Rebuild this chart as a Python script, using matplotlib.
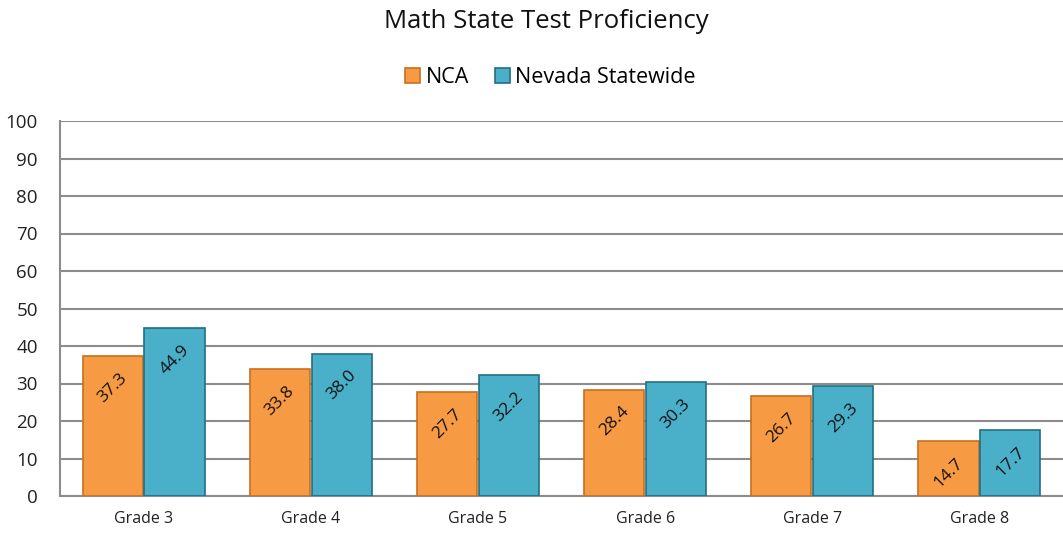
import matplotlib
matplotlib.use("Agg")
import matplotlib.pyplot as plt
import numpy as np

grades = ["Grade 3", "Grade 4", "Grade 5", "Grade 6", "Grade 7", "Grade 8"]
nca = [37.3, 33.8, 27.7, 28.4, 26.7, 14.7]
nevada = [44.9, 38.0, 32.2, 30.3, 29.3, 17.7]
series_names = ["NCA", "Nevada Statewide"]

plt.rcParams["font.family"] = ["Open Sans", "DejaVu Sans"]

fig = plt.figure(figsize=(10.63, 5.34), dpi=100)
ax = fig.add_axes([60 / 1063, 1 - 496 / 534, 1 - 60 / 1063, (496 - 121) / 534])

x = np.arange(len(grades))
width = 0.36
offset = 0.185
colours = [("#F79A44", "#C8701E"), ("#4AAFC8", "#226F84")]

for vals, off, (fc, ec), name in zip([nca, nevada], [-offset, offset], colours, series_names):
    bars = ax.bar(x + off, vals, width, color=fc, edgecolor=ec, linewidth=1.2,
                  label=name, zorder=3)
    for b, v in zip(bars, vals):
        ax.annotate(f"{v:.1f}", (b.get_x() + b.get_width() / 2, v),
                    xytext=(0, -23), textcoords="offset points",
                    ha="center", va="center", rotation=45, fontsize=12.5,
                    color="#111111", zorder=4)

ax.set_xlim(-0.5, len(grades) - 0.5)
ax.set_ylim(0, 100)
ax.set_yticks(range(0, 101, 10))
ax.set_xticks(x)
ax.set_xticklabels(grades, fontsize=11.5, color="#222222")
ax.tick_params(axis="y", length=0, labelsize=13.5, pad=16, labelcolor="#222222")
ax.tick_params(axis="x", length=0, pad=11)
ax.grid(axis="y", color="#8c8c8c", linewidth=1.5, zorder=0)
for side in ["top", "right"]:
    ax.spines[side].set_visible(False)
ax.spines["left"].set_color("#8c8c8c")
ax.spines["left"].set_linewidth(1.5)
ax.spines["bottom"].set_color("#8c8c8c")
ax.spines["bottom"].set_linewidth(1.5)

fig.text(0.514, 0.96, "Math State Test Proficiency", ha="center", va="center",
         fontsize=18.5, color="#111111")
fig.legend(loc="center", bbox_to_anchor=(0.518, 0.855), ncol=2, frameon=False,
           fontsize=15.5, handlelength=0.7, handleheight=0.7, handletextpad=0.25,
           columnspacing=1.2)

fig.savefig("out.png", dpi=100)
